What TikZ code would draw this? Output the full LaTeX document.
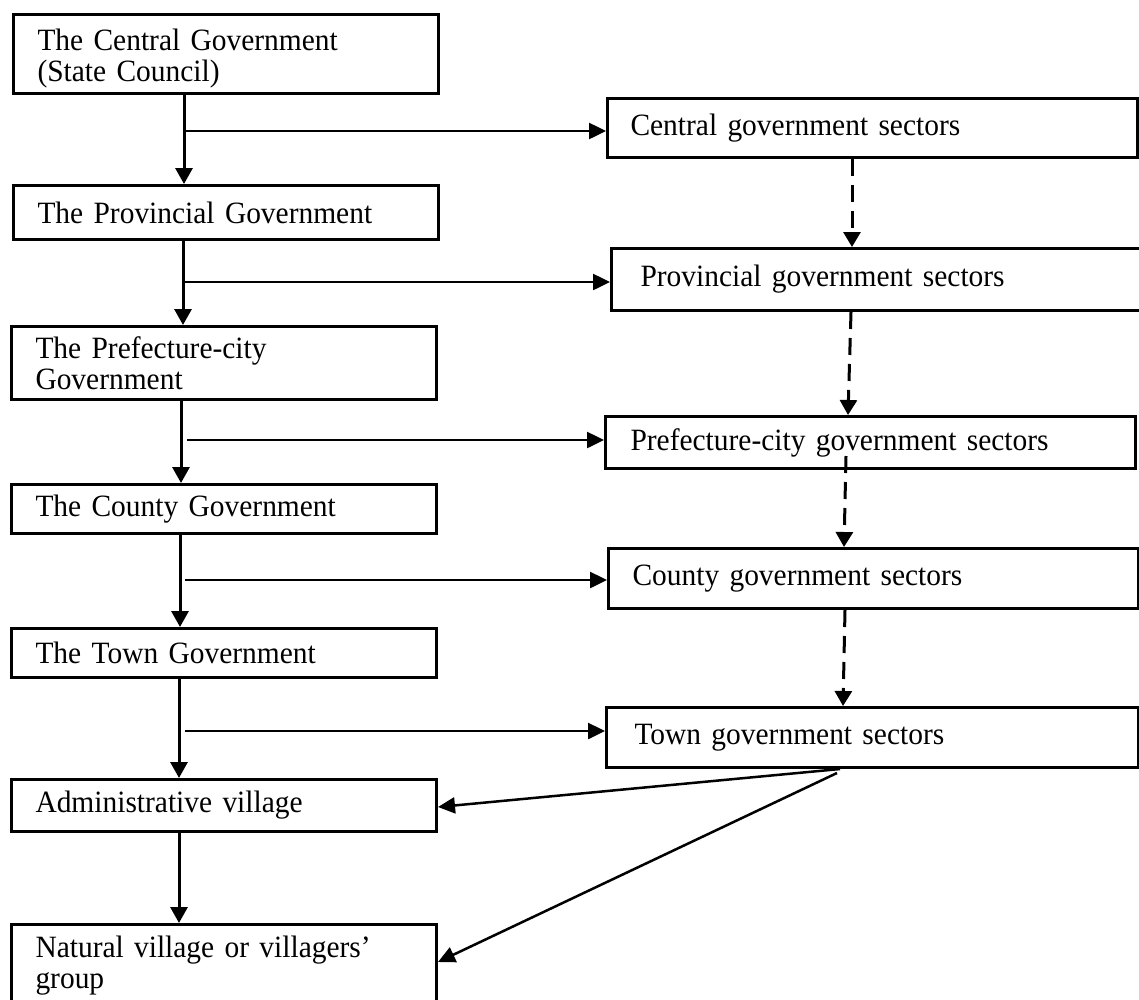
\documentclass[tikz,border=0pt]{standalone}
\usepackage{fontspec}
\setmainfont{Liberation Serif}[FakeStretch=0.95]
\usetikzlibrary{arrows.meta}
\begin{document}
\begin{tikzpicture}[x=1pt,y=-1pt,
  every node/.style={font=\fontsize{31pt}{31pt}\selectfont},
  govbox/.style={draw, line width=3pt, anchor=north west, inner xsep=24pt,
    inner ysep=0pt, text width=377pt, minimum width=425pt, align=left},
  secbox/.style={draw, line width=3pt, anchor=north west, inner ysep=0pt, align=left},
  down/.style={line width=3pt, -{Triangle[length=16pt,width=17pt]}},
  side/.style={line width=2.5pt, -{Triangle[length=17pt,width=16pt]}},
  feed/.style={line width=3pt, dash pattern=on 17pt off 9pt, -{Triangle[length=15pt,width=17pt]}},
  slant/.style={line width=2.5pt, -{Triangle[length=17pt,width=16pt]}}
]
\useasboundingbox (0,0) rectangle (1139,999);
\clip (0,0) rectangle (1139,999);

% government levels (left column)
\node[govbox, minimum height=79pt] (cg) at (12,13) {\rule{0pt}{30pt}The Central Government\\(State Council)};
\node[govbox, minimum height=54pt] (pg) at (12,184) {The Provincial Government};
\node[govbox, minimum height=73pt] (fg) at (10,325) {The Prefecture-city\\Government};
\node[govbox, minimum height=49pt] (kg) at (10,483) {The County Government};
\node[govbox, minimum height=49pt] (tg) at (10,627) {The Town Government};
\node[govbox, minimum height=52pt] (av) at (10,778) {Administrative village};
\node[govbox, minimum height=82pt] (nv) at (10,923) {Natural village or villagers’\\group};

% government sectors (right column)
\node[secbox, minimum width=530pt, inner xsep=23pt, text width=484pt, minimum height=59pt] (cs) at (606,97) {Central government sectors};
\node[secbox, minimum width=545pt, inner xsep=29pt, text width=487pt, minimum height=62pt] (ps) at (610,247) {Provincial government sectors};
\node[secbox, minimum width=530pt, inner xsep=25pt, text width=480pt, minimum height=52pt] (fs) at (604,415) {Prefecture-city government sectors};
\node[secbox, minimum width=530pt, inner xsep=24pt, text width=482pt, minimum height=60pt] (ks) at (607,547) {County government sectors};
\node[secbox, minimum width=532pt, inner xsep=28pt, text width=476pt, minimum height=60pt] (ts) at (605,706) {Town government sectors};

% vertical chain of command
\coordinate (v1) at (184,0);
\coordinate (v2) at (183,0);
\coordinate (v3) at (181,0);
\coordinate (v4) at (180,0);
\coordinate (v5) at (179,0);
\draw[down] (cg.south -| v1) -- (pg.north -| v1);
\draw[down] (pg.south -| v2) -- (fg.north -| v2);
\draw[down] (fg.south -| v3) -- (kg.north -| v3);
\draw[down] (kg.south -| v4) -- (tg.north -| v4);
\draw[down] (tg.south -| v5) -- (av.north -| v5);
\draw[down] (av.south -| v5) -- (nv.north -| v5);

% branches to the sectors
\coordinate (h1) at (185,131);
\coordinate (h2) at (185,282);
\coordinate (h3) at (187,440);
\coordinate (h4) at (185,580);
\coordinate (h5) at (185,731);
\draw[side] (h1) -- (cs.west |- h1);
\draw[side] (h2) -- (ps.west |- h2);
\draw[side] (h3) -- (fs.west |- h3);
\draw[side] (h4) -- (ks.west |- h4);
\draw[side] (h5) -- (ts.west |- h5);

% guidance between sector levels
\coordinate (d1) at (852,0);
\coordinate (d2a) at (851,0);
\coordinate (d2b) at (848,0);
\coordinate (d3a) at (846,456);
\coordinate (d3b) at (844,0);
\coordinate (d4a) at (845,0);
\coordinate (d4b) at (843,0);
\draw[feed] (cs.south -| d1) -- (ps.north -| d1);
\draw[feed] (ps.south -| d2a) -- (fs.north -| d2b);
\draw[feed] (d3a) -- (ks.north -| d3b);
\draw[feed] (ks.south -| d4a) -- (ts.north -| d4b);

% town sectors to the villages
\coordinate (t1) at (840,769);
\coordinate (t2) at (837,773);
\coordinate (a1) at (0,807);
\coordinate (n1) at (0,962);
\draw[slant] (t1) -- (av.east |- a1);
\draw[slant] (t2) -- (nv.east |- n1);
\end{tikzpicture}
\end{document}
